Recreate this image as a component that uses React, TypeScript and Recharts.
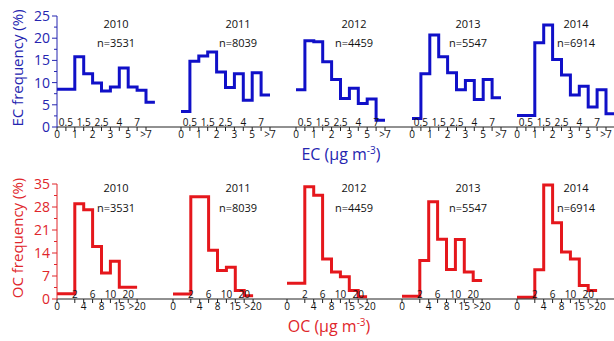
import { LineChart, Line, XAxis, YAxis } from 'recharts';

const years = ['2010', '2011', '2012', '2013', '2014'];
const counts = ['n=3531', 'n=8039', 'n=4459', 'n=5547', 'n=6914'];

// EC: one value per tick slot (left edge of each step)
const ecTicks = ['0', '0.5', '1', '1.5', '2', '2.5', '3', '4', '5', '7', '>7'];
const ecAbove = [false, true, false, true, false, true, false, true, false, true, false];
const ec2010 = [8.5, 8.5, 15.8, 12, 9.9, 8.1, 9.0, 13.3, 9.0, 8.3, 5.6];
const ec2011 = [3.5, 14.8, 16, 16.9, 12.4, 8.9, 12.0, 6.0, 12.2, 7.2];
const ec2012 = [8.4, 19.4, 19.2, 14.7, 10.7, 6.4, 8.7, 5.3, 6.3, 1.5];
const ec2013 = [1.9, 12.0, 20.7, 15.8, 12.2, 8.4, 10.5, 6.2, 10.7, 6.6];
const ec2014 = [2.6, 2.6, 19.0, 23.0, 15.2, 11.7, 7.2, 9.2, 4.5, 8.4, 3.0];
const ecYTicks = [0, 5, 10, 15, 20, 25];

// OC: slot 1 has no label, so first bin spans 0-2
const ocTicks = ['0', '', '2', '4', '6', '8', '10', '15', '20', '>20'];
const ocAbove = [false, false, true, false, true, false, true, false, true, false];
const oc2010 = [1.6, 1.6, 29, 27.2, 16, 7.9, 11.5, 3.6, 3.6];
const oc2011 = [1.5, 1.5, 31.1, 31.1, 14.8, 8.7, 9.7, 2.6, 1.0];
const oc2012 = [4.8, 4.8, 34.2, 31.6, 12.2, 8.2, 6.8, 2.6, 0.7];
const oc2013 = [0.8, 0.8, 11.7, 29.6, 18.2, 9.0, 18.1, 8.2, 5.6];
const oc2014 = [0.5, 0.5, 8.9, 34.7, 23.2, 14.3, 12.2, 4.1, 2.6];
const ocYTicks = [0, 7, 14, 21, 28, 35];

const BLUE = '#1010c8';
const BLUE_TEXT = '#2525b0';
const RED = '#e5171c';
const RED_TEXT = '#e0262b';
const FONT = '"Open Sans", sans-serif';

const UNIT = 8.9; // px per tick slot
const RIGHT = 614;
const PAD = 10; // room for the "0" label at each panel's left edge
const ecLeft = [57, 181, 296, 412, 517];
const ocLeft = [57, 173, 287, 402, 517];
const titleX = [116, 238, 354, 468, 576];

const XTick = (props: any) => {
  const { x, y, payload, labels, above } = props;
  const i = payload.value;
  const label = labels[i];
  if (!label) return <g />;
  return (
    <g>
      <line x1={x} x2={x} y1={y} y2={y + 4} stroke="#222" strokeWidth={1} />
      <text x={x} y={above[i] ? y - 1.5 : y + 11} textAnchor="middle" fontSize={10} fontFamily={FONT} fill="#111">
        {label}
      </text>
    </g>
  );
};

const YTick = (props: any) => {
  const { x, y, payload, major, color } = props;
  const isMajor = major.includes(payload.value);
  return (
    <g>
      <line x1={x} x2={x - (isMajor ? 5 : 3)} y1={y} y2={y} stroke={color} strokeWidth={1} />
      {isMajor && (
        <text x={x - 7} y={y} dy="0.36em" textAnchor="end" fontSize={14} fontFamily={FONT} fill={color}>
          {payload.value}
        </text>
      )}
    </g>
  );
};

type RowProps = {
  series: number[][];
  ticks: string[];
  above: boolean[];
  lefts: number[];
  yTicks: number[];
  color: string;
  textColor: string;
  top: number;
  plotTop: number;
  plotH: number;
  axisH: number;
};

const Row = ({ series, ticks, above, lefts, yTicks, color, textColor, top, plotTop, plotH, axisH }: RowProps) => {
  const yMax = yTicks[yTicks.length - 1];
  const minor = yTicks.slice(1).map((t, i) => (t + yTicks[i]) / 2);
  const yAll = [...yTicks, ...minor].sort((a, b) => a - b);
  return (
    <>
      {series.map((vals, k) => {
        const start = lefts[k];
        const end = k < lefts.length - 1 ? lefts[k + 1] : RIGHT;
        const first = k === 0;
        const padL = first ? 0 : PAD;
        const data = vals
          .map((v, i) => ({ x: i, v }))
          .concat([{ x: vals.length, v: vals[vals.length - 1] }]);
        return (
          <div key={k} style={{ position: 'absolute', left: first ? 0 : start - padL, top }}>
            <LineChart
              width={end - start + (first ? start : padL)}
              height={plotTop + plotH + axisH}
              data={data}
              margin={{ top: plotTop, right: 0, bottom: 0, left: padL }}
            >
              <XAxis
                type="number"
                dataKey="x"
                domain={[0, (end - start) / UNIT]}
                allowDataOverflow
                ticks={ticks.map((_, i) => i)}
                interval={0}
                tickSize={0}
                tickMargin={0}
                height={axisH}
                axisLine={{ stroke: '#222', strokeWidth: 1 }}
                tick={(p: any) => <XTick {...p} labels={ticks} above={above} />}
              />
              <YAxis
                hide={!first}
                width={first ? start : 0}
                domain={[0, yMax]}
                ticks={yAll}
                interval={0}
                tickSize={0}
                tickMargin={0}
                axisLine={{ stroke: textColor, strokeWidth: 1 }}
                tick={(p: any) => <YTick {...p} major={yTicks} color={textColor} />}
              />
              <Line
                type="stepAfter"
                dataKey="v"
                stroke={color}
                strokeWidth={3}
                dot={false}
                isAnimationActive={false}
              />
            </LineChart>
          </div>
        );
      })}
    </>
  );
};

const centered = (x: number, y: number, extra: any = {}) => ({
  position: 'absolute' as const,
  left: x,
  top: y,
  transform: 'translate(-50%, -50%)',
  whiteSpace: 'nowrap' as const,
  lineHeight: 1,
  ...extra,
});

export default function App() {
  return (
    <div
      style={{
        position: 'absolute',
        left: 0,
        top: 0,
        width: 614,
        height: 341,
        background: '#fff',
        overflow: 'hidden',
        fontFamily: FONT,
      }}
    >
      <Row
        series={[ec2010, ec2011, ec2012, ec2013, ec2014]}
        ticks={ecTicks}
        above={ecAbove}
        lefts={ecLeft}
        yTicks={ecYTicks}
        color={BLUE}
        textColor={BLUE_TEXT}
        top={0}
        plotTop={16}
        plotH={111}
        axisH={24}
      />
      <Row
        series={[oc2010, oc2011, oc2012, oc2013, oc2014]}
        ticks={ocTicks}
        above={ocAbove}
        lefts={ocLeft}
        yTicks={ocYTicks}
        color={RED}
        textColor={RED_TEXT}
        top={170}
        plotTop={14}
        plotH={115}
        axisH={22}
      />

      {years.map((y, k) => (
        <div key={'ey' + y}>
          <div style={centered(titleX[k], 23, { fontSize: 11, color: '#111' })}>{y}</div>
          <div style={centered(titleX[k], 42, { fontSize: 11, color: '#111' })}>{counts[k]}</div>
          <div style={centered(titleX[k], 187, { fontSize: 11, color: '#111' })}>{y}</div>
          <div style={centered(titleX[k], 207, { fontSize: 11, color: '#111' })}>{counts[k]}</div>
        </div>
      ))}

      <div style={centered(17, 68, { fontSize: 15, color: BLUE_TEXT, transform: 'translate(-50%, -50%) rotate(-90deg)' })}>
        EC frequency (%)
      </div>
      <div style={centered(17, 238, { fontSize: 15, color: RED_TEXT, transform: 'translate(-50%, -50%) rotate(-90deg)' })}>
        OC frequency (%)
      </div>

      <div style={centered(341, 153, { fontSize: 16, color: BLUE_TEXT })}>
        EC (μg m<span style={{ fontSize: 10, verticalAlign: 6 }}>-3</span>)
      </div>
      <div style={centered(329, 325, { fontSize: 16, color: RED_TEXT })}>
        OC (μg m<span style={{ fontSize: 10, verticalAlign: 6 }}>-3</span>)
      </div>
    </div>
  );
}
